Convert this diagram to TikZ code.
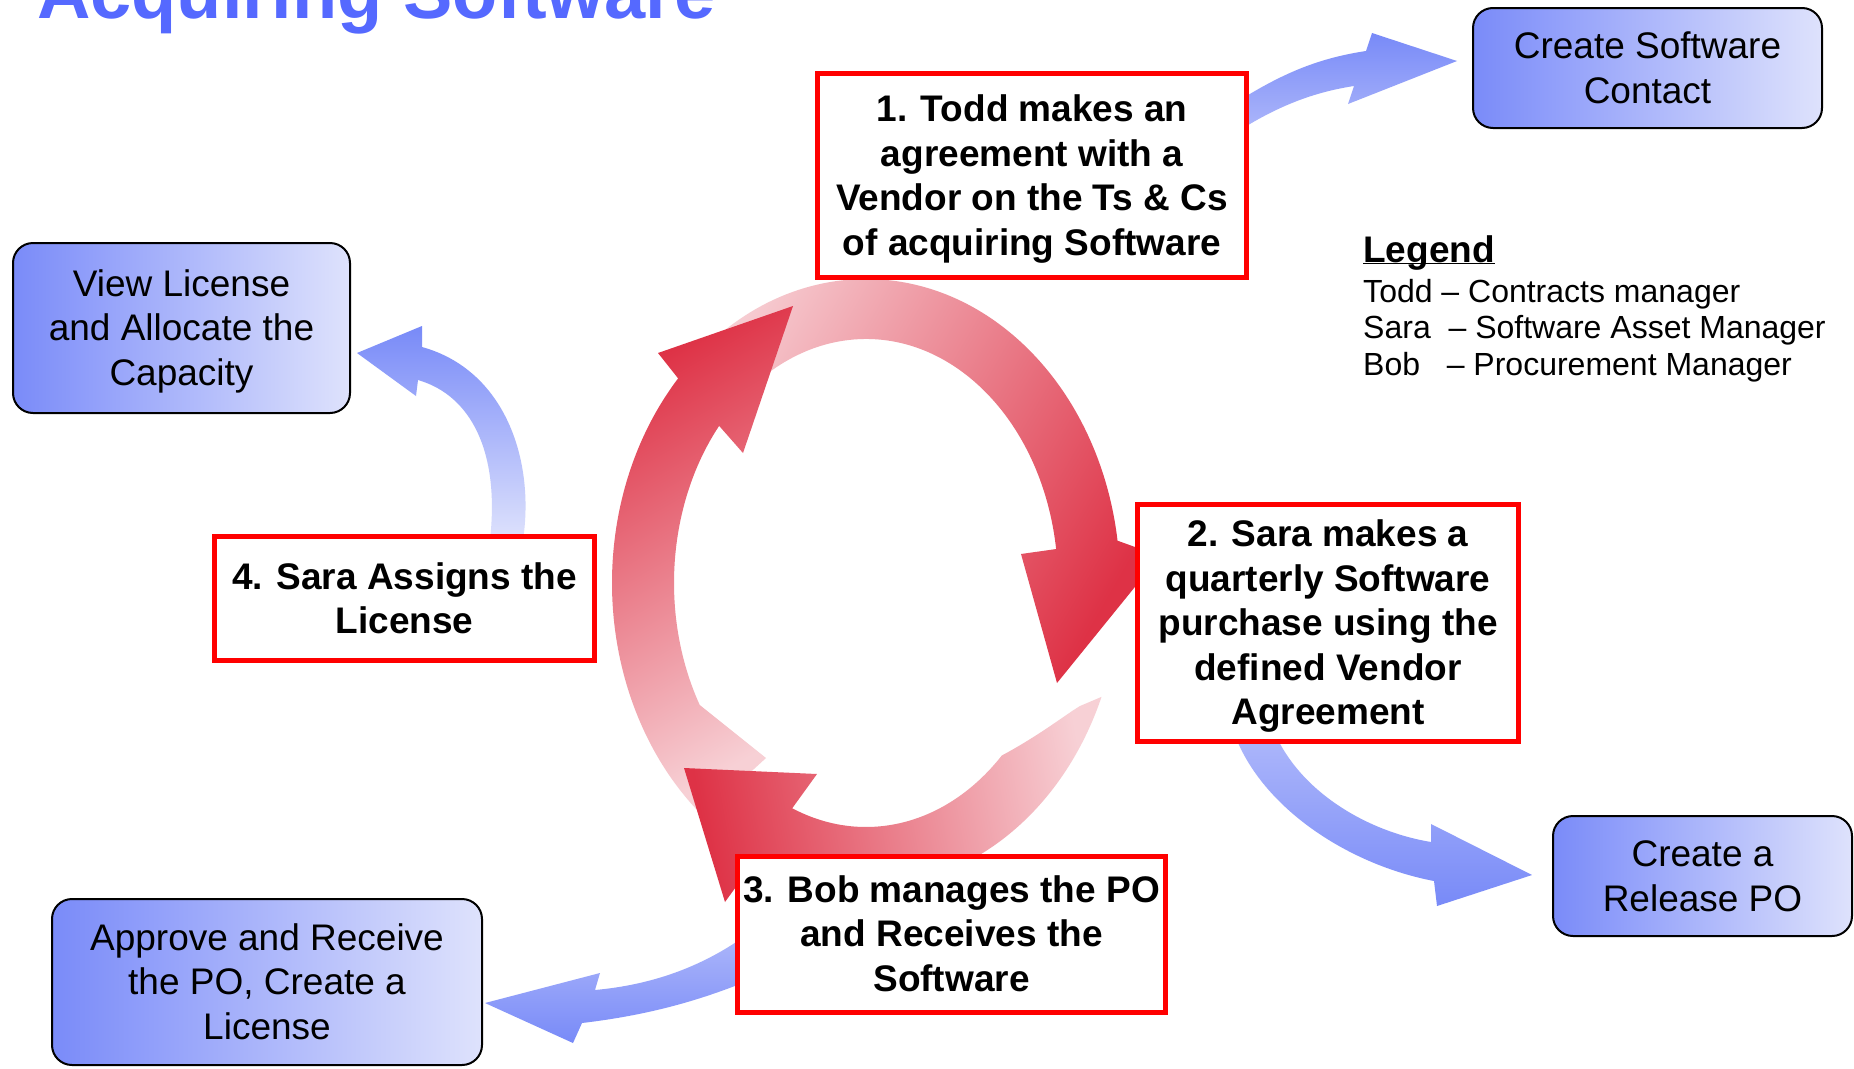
\documentclass[tikz,border=0pt]{standalone}
\usepackage{fontspec}
\setmainfont{Liberation Sans}
\usetikzlibrary{positioning}

\definecolor{titleblue}{RGB}{85,105,255}
\definecolor{boxdark}{RGB}{122,139,249}
\definecolor{boxlight}{RGB}{222,226,252}
\definecolor{ringdark}{RGB}{222,50,70}
\definecolor{ringlight}{RGB}{247,208,213}
\definecolor{arrdark}{RGB}{120,138,248}
\definecolor{arrmid}{RGB}{172,182,250}
\definecolor{arrlight}{RGB}{222,226,252}

% line box as tall as the font's ascent and descent
\newcommand{\ls}{\rule[-0.212em]{0pt}{1.117em}}

\tikzset{
  stepbox/.style={draw=red, line width=5pt, fill=white, inner sep=0pt,
    align=center, font=\bfseries\fontsize{37}{44.5}\selectfont},
  taskbox/.style={draw=black, line width=2pt, rounded corners=20pt,
    left color=boxdark, right color=boxlight, inner sep=0pt,
    align=center, font=\fontsize{37}{44.5}\selectfont},
  ringarrow/.style={top color=ringlight, bottom color=ringdark, shading angle=#1},
  legline/.style={inner sep=0pt, font=\fontsize{32}{37}\selectfont}
}

\begin{document}
\begin{tikzpicture}[x=1pt,y=-1pt]
    \path[use as bounding box, fill=white] (0,0) rectangle (1854,1068);
    \node[anchor=base west, inner sep=0pt, text=titleblue,
          font=\bfseries\fontsize{74}{80}\selectfont] (title) at (37,18) {Acquiring Software};

    % the cycle
    \coordinate (ring) at (866,583);
    \shade[ringarrow=60] ([shift={(220:254 and 304)}]ring)
        arc[start angle=220, end angle=352, x radius=254, y radius=304]
        -- (1160,556) -- (1057,683) -- (1021,554)
        -- ([shift={(352:192 and 244)}]ring)
        arc[start angle=352, end angle=220, x radius=192, y radius=244] -- cycle;
    \shade[ringarrow=-150] ([shift={(130:254 and 304)}]ring)
        arc[start angle=130, end angle=222.3, x radius=254, y radius=304]
        -- (658,353) -- (793,306) -- (743,453)
        -- ([shift={(220.1:192 and 244)}]ring)
        arc[start angle=220.1, end angle=150, x radius=192, y radius=244]
        -- (766,758) -- cycle;
    \shade[ringarrow=-80] ([shift={(22:254 and 304)}]ring)
        arc[start angle=22, end angle=115.4, x radius=254, y radius=304]
        -- (725,902) -- (684,768) -- (817,774)
        -- ([shift={(112.6:192 and 244)}]ring)
        arc[start angle=112.6, end angle=45, x radius=192, y radius=244]
        .. controls (1040,735) and (1065,715) .. (1080,706) -- cycle;

    % side arrows
    \shade[top color=arrdark, bottom color=arrmid] (1240,100)
        .. controls (1285,72) and (1320,58) .. (1366,51) -- (1372,33) -- (1457,61)
        -- (1348,104) -- (1354,86) .. controls (1315,92) and (1280,105) .. (1240,130) -- cycle;
    \shade[top color=arrdark, bottom color=arrlight] (523,540)
        .. controls (535,460) and (505,370) .. (422,347) -- (422,326) -- (357,353)
        -- (416,396) -- (418,380) .. controls (470,395) and (500,450) .. (490,540) -- cycle;
    \shade[top color=arrmid, bottom color=arrdark] (745,936)
        .. controls (700,968) and (650,985) .. (595,990) -- (600,973) -- (485,1003)
        -- (573,1043) -- (582,1023) .. controls (650,1015) and (700,1000) .. (745,982) -- cycle;
    \shade[top color=arrmid, bottom color=arrdark] (1277,738)
        .. controls (1305,795) and (1370,832) .. (1431,842) -- (1431,824) -- (1532,875)
        -- (1437,906) -- (1434,881) .. controls (1350,865) and (1265,810) .. (1236,738) -- cycle;

    % steps
    \node[stepbox, minimum width=429pt, minimum height=204pt] (step1) at (1032,175.5)
        {\ls 1. Todd makes an\\agreement with a\\Vendor on the Ts \& Cs\\of acquiring Software\ls};
    \node[stepbox, minimum width=381pt, minimum height=237pt] (step2) at (1328,623)
        {\ls 2. Sara makes a\\quarterly Software\\purchase using the\\defined Vendor\\Agreement\ls};
    \node[stepbox, minimum width=428pt, minimum height=156pt] (step3) at (951.5,934)
        {\ls 3. Bob manages the PO\\and Receives the\\Software\ls};
    \node[stepbox, minimum width=380pt, minimum height=124pt] (step4) at (404.5,598.5)
        {\ls 4. Sara Assigns the\\License\ls};

    % tasks
    \node[taskbox, minimum width=349pt, minimum height=120pt] (contract) at (1647.5,68)
        {\ls Create Software\\Contact\ls};
    \node[taskbox, minimum width=337pt, minimum height=170pt] (view) at (181.5,328)
        {\ls View License\\and Allocate the\\Capacity\ls};
    \node[taskbox, minimum width=430pt, minimum height=166pt] (approve) at (267,982)
        {\ls Approve and Receive\\the PO, Create a\\License\ls};
    \node[taskbox, minimum width=299pt, minimum height=120pt] (release) at (1702.5,876)
        {\ls Create a\\Release PO\ls};

    % legend
    \node[anchor=base west, inner sep=0pt, font=\bfseries\fontsize{37}{44}\selectfont]
        (legend) at (1363,262) {\underline{\smash{Legend}}};
    \node[legline, anchor=base west] (legtodd) at (1363,302) {Todd – Contracts manager};
    \node[legline, below=36pt of legtodd.base west, anchor=base west] (legsara)
        {Sara\ \ – Software Asset Manager};
    \node[legline, below=37pt of legsara.base west, anchor=base west] (legbob)
        {Bob\ \ \ – Procurement Manager};
\end{tikzpicture}
\end{document}
